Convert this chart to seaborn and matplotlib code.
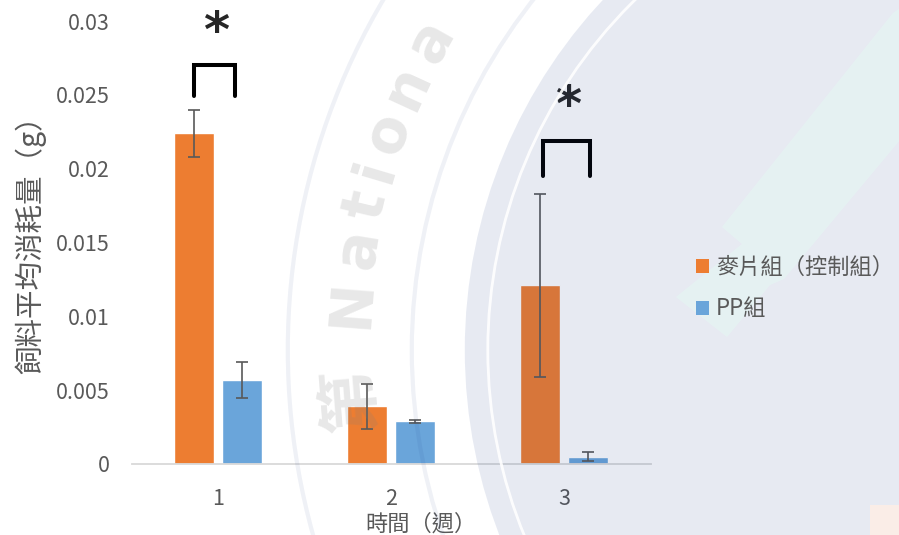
import numpy as np
import pandas as pd
import matplotlib
matplotlib.use("Agg")
import matplotlib.pyplot as plt
import seaborn as sns
from matplotlib.patches import Circle, Polygon, Rectangle, Patch

# Weekly average feed consumption (g) per group, with error bars
weeks = ["1", "2", "3"]
groups = ["麥片組（控制組）", "PP組"]
oat_mean = [0.0224, 0.0039, 0.0121]
oat_err = [0.0016, 0.0015, 0.0062]
pp_mean = [0.0057, 0.0029, 0.0005]
pp_err = [0.0012, 0.0001, 0.0003]
y_ticks = [0, 0.005, 0.01, 0.015, 0.02, 0.025, 0.03]
bar_colors = ["#ED7D31", "#6AA5DA"]

# significance brackets: (week index, left offset, right offset, bottom, top)
brackets = [(0, -0.14, 0.10, 0.0249, 0.0270), (2, -0.12, 0.15, 0.0195, 0.0219)]
star_y = [0.0292, 0.0242]

df = pd.DataFrame({
    "week": weeks * 2,
    "group": [groups[0]] * 3 + [groups[1]] * 3,
    "value": oat_mean + pp_mean,
})
errs = {groups[0]: oat_err, groups[1]: pp_err}

sns.set_theme(style="white")
plt.rcParams["font.family"] = ["Noto Sans CJK TC", "DejaVu Sans"]
text_gray = "#595959"

W, H = 899, 535
fig = plt.figure(figsize=(W / 100, H / 100), dpi=100)
ax = fig.add_axes([131.5 / W, 71 / H, 519 / W, 443 / H])
ax.set_zorder(1)

sns.barplot(data=df, x="week", y="value", hue="group", order=weeks,
            hue_order=groups, palette=bar_colors, width=0.56, gap=0.18,
            errorbar=None, saturation=1, ax=ax, legend=False)

for cont, g in zip(ax.containers, groups):
    xs = [b.get_x() + b.get_width() / 2 for b in cont]
    ys = [b.get_height() for b in cont]
    ax.errorbar(xs, ys, yerr=errs[g], fmt="none", ecolor=text_gray,
                elinewidth=1.2, capsize=4.3, capthick=1.2, zorder=3)

for (i, l, r, yb, yt), sy in zip(brackets, star_y):
    ax.plot([i + l, i + l, i + r, i + r], [yb, yt, yt, yb], color="black",
            lw=2.9, solid_joinstyle="miter", clip_on=False, zorder=4)
    ax.text(i + (l + r) / 2 + 0.01, sy, "*", ha="center", va="center",
            fontsize=36, fontweight="bold", family="DejaVu Sans", clip_on=False)

ax.set_ylim(0, 0.03)
ax.set_xlim(-0.5, 2.5)
ax.set_yticks(y_ticks)
ax.set_yticklabels([f"{v:g}" for v in y_ticks])
ax.tick_params(axis="y", length=0, pad=16, labelsize=15.5, labelcolor=text_gray)
ax.tick_params(axis="x", length=0, pad=17, labelsize=15.5, labelcolor=text_gray)
ax.set_xlabel("")
ax.set_ylabel("")
for s in ["left", "right", "top"]:
    ax.spines[s].set_visible(False)
ax.spines["bottom"].set_color("#d9d9d9")
ax.spines["bottom"].set_linewidth(1.3)
ax.patch.set_alpha(0)

fig.text(421 / W, 1 - 524 / H, "時間（週）", ha="center", va="center",
         fontsize=16, color=text_gray)
fig.text(30 / W, 1 - 238 / H, "飼料平均消耗量（g）", ha="center", va="center",
         rotation=90, fontsize=20.5, color=text_gray)

# faint seal in the background, laid over the plot
ov = fig.add_axes([0, 0, 1, 1])
ov.set_xlim(0, W)
ov.set_ylim(H, 0)
ov.axis("off")
ov.patch.set_alpha(0)
ov.set_zorder(5)
cx, cy = 977.8, 350
navy = "#1e3c89"
ov.add_patch(Circle((cx, cy), 513, facecolor=navy, alpha=0.105, lw=0))
ov.add_patch(Circle((cx, cy), 490, facecolor="none", edgecolor="white",
                    lw=2, alpha=0.9))
for r in (566, 690):
    ov.add_patch(Circle((cx, cy), r, facecolor="none", edgecolor=navy,
                        lw=3, alpha=0.07))
seal_chars = ["第", "N", "a", "t", "i", "o", "n", "a"]
seal_angles = [184.5, 175.7, 170.7, 166.7, 163.4, 159.8, 155.3, 150.6]
for ch, ang in zip(seal_chars, seal_angles):
    t = np.deg2rad(ang)
    rr = 628
    ov.text(cx + rr * np.cos(t), cy - rr * np.sin(t), ch, rotation=ang - 90,
            ha="center", va="center", fontsize=42 if ch != "第" else 46,
            fontweight="bold", color="#7f7f7f", alpha=0.18,
            family=["DejaVu Sans", "Noto Sans CJK TC"])
mint = [(893, 13), (722, 227), (742, 244), (676, 297), (727, 337),
        (770, 285), (784, 279), (905, 134), (905, 5)]
ov.add_patch(Polygon(mint, closed=True, facecolor="#e4fef3", lw=0, alpha=0.4))
ov.add_patch(Rectangle((870, 505), 40, 40, facecolor="#ffefe5", lw=0, alpha=0.8))

handles = [Patch(facecolor=c, edgecolor="none") for c in bar_colors]
leg = fig.legend(handles, groups, loc="center left",
                 bbox_to_anchor=(676 / W, 1 - 288 / H), frameon=False,
                 fontsize=16, handlelength=0.6, handleheight=0.6,
                 handletextpad=0.3, labelspacing=0.85, labelcolor=text_gray)
leg.set_zorder(20)

fig.savefig("out.png", dpi=100)
